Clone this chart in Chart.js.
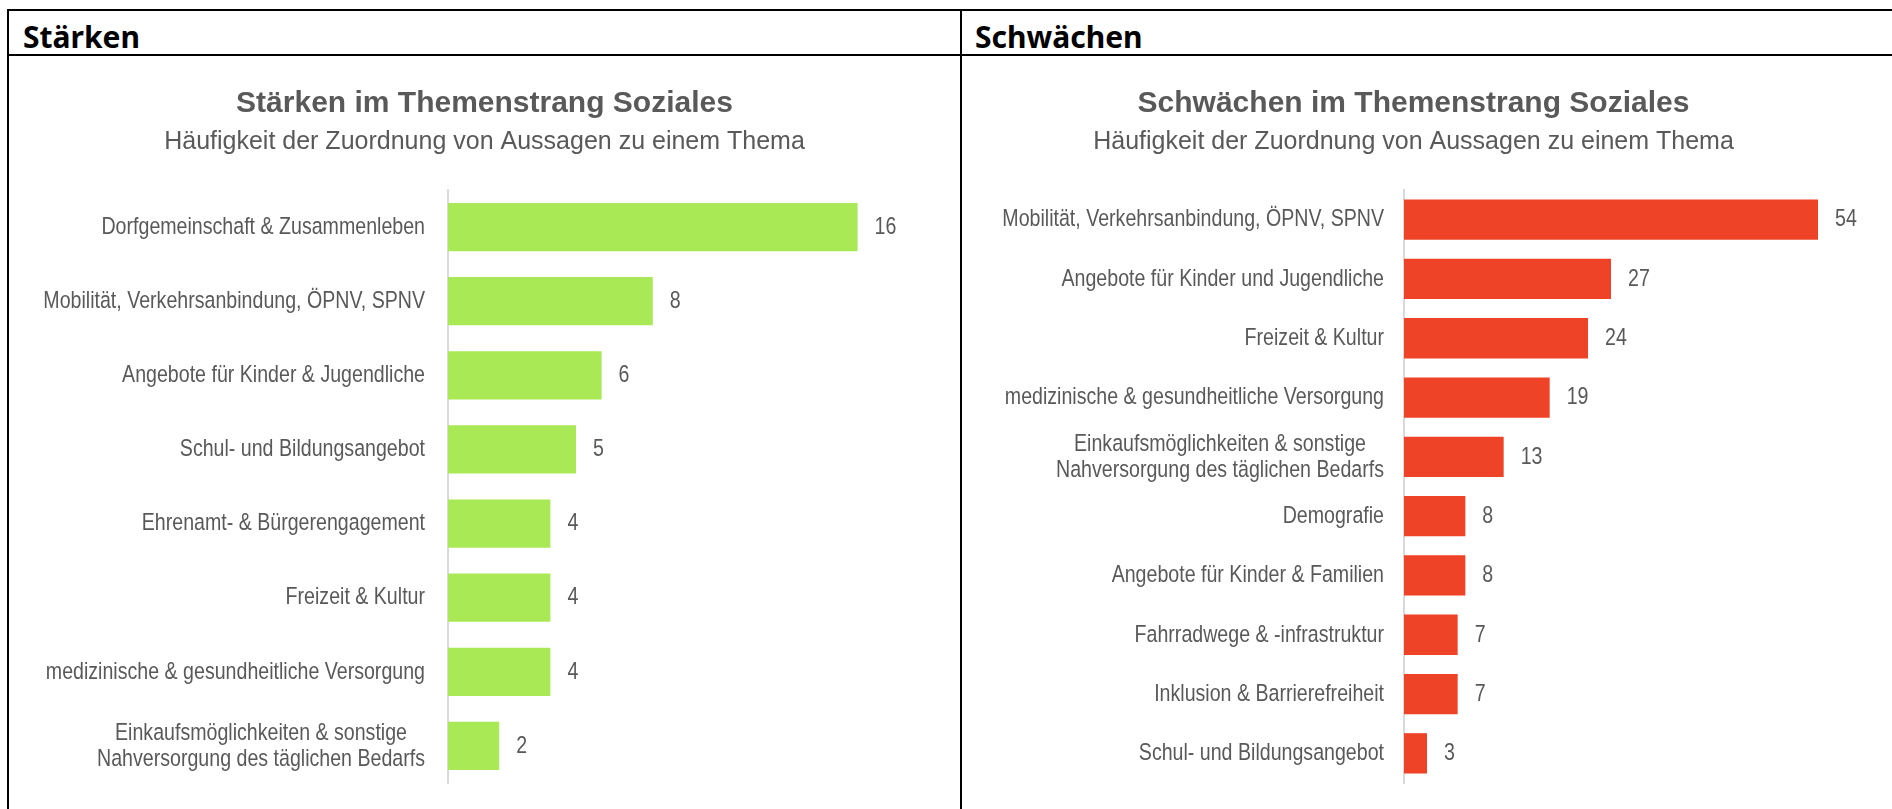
<!DOCTYPE html>
<html>
<head>
<meta charset="utf-8">
<script src="https://cdn.jsdelivr.net/npm/chart.js@4"></script>
<style>
  body { margin: 0; background: #fff; width: 1892px; height: 809px; overflow: hidden; position: relative; }
  .line { position: absolute; background: #000; }
  .head { position: absolute; top: 16px; font: bold 30px 'Noto Sans', sans-serif; color: #000; }
  .box { position: absolute; top: 56px; height: 753px; }
</style>
</head>
<body>
<div class="line" style="left:7px; top:9px; width:1885px; height:2px"></div>
<div class="line" style="left:7px; top:54px; width:1885px; height:2px"></div>
<div class="line" style="left:7px; top:9px; width:2px; height:800px"></div>
<div class="line" style="left:960px; top:9px; width:2px; height:800px"></div>
<div class="head" style="left:23px">Stärken</div>
<div class="head" style="left:975px">Schwächen</div>
<div class="box" style="left:9px; width:951px"><canvas id="left"></canvas></div>
<div class="box" style="left:963px; width:929px"><canvas id="right"></canvas></div>
<script>
const staerkenLabels = [
    'Dorfgemeinschaft & Zusammenleben',
    'Mobilität, Verkehrsanbindung, ÖPNV, SPNV',
    'Angebote für Kinder & Jugendliche',
    'Schul- und Bildungsangebot',
    'Ehrenamt- & Bürgerengagement',
    'Freizeit & Kultur',
    'medizinische & gesundheitliche Versorgung',
    ['Einkaufsmöglichkeiten & sonstige', 'Nahversorgung des täglichen Bedarfs']
];
const staerkenValues = [16, 8, 6, 5, 4, 4, 4, 2];

const schwaechenLabels = [
    'Mobilität, Verkehrsanbindung, ÖPNV, SPNV',
    'Angebote für Kinder und Jugendliche',
    'Freizeit & Kultur',
    'medizinische & gesundheitliche Versorgung',
    ['Einkaufsmöglichkeiten & sonstige', 'Nahversorgung des täglichen Bedarfs'],
    'Demografie',
    'Angebote für Kinder & Familien',
    'Fahrradwege & -infrastruktur',
    'Inklusion & Barrierefreiheit',
    'Schul- und Bildungsangebot'
];
const schwaechenValues = [54, 27, 24, 19, 13, 8, 8, 7, 7, 3];

const sans = "'Liberation Sans', Arial, sans-serif";
const grey = '#595959';
const squeeze = 0.8; // the original labels use a narrow face

function squeezedText(ctx, text, x, y, align) {
    ctx.save();
    ctx.translate(x, y);
    ctx.scale(squeeze, 1);
    ctx.textAlign = align;
    ctx.fillText(text, 0, 0);
    ctx.restore();
}

// category labels and value labels, placed from the chart's own scale and bars
const narrowLabels = {
    id: 'narrowLabels',
    afterDatasetsDraw(chart, args, opts) {
        const ctx = chart.ctx;
        const yScale = chart.scales.y;
        const meta = chart.getDatasetMeta(0);
        const values = chart.data.datasets[0].data;
        ctx.save();
        ctx.font = '24.5px ' + sans;
        ctx.fillStyle = grey;
        ctx.textBaseline = 'middle';
        chart.data.labels.forEach((label, i) => {
            const lines = [].concat(label);
            const cy = yScale.getPixelForTick(i);
            const right = chart.chartArea.left - opts.pad;
            const maxW = Math.max(...lines.map(l => ctx.measureText(l).width)) * squeeze;
            lines.forEach((l, k) => {
                const ly = cy + (k - (lines.length - 1) / 2) * 26;
                squeezedText(ctx, l, lines.length > 1 ? right - maxW / 2 : right, ly, lines.length > 1 ? 'center' : 'right');
            });
            const bar = meta.data[i];
            squeezedText(ctx, String(values[i]), bar.x + 17, bar.y, 'left');
        });
        ctx.restore();
    }
};

function makeChart(id, title, labels, values, color, max, axisWidth, pad, barPct, rightPad) {
    return new Chart(document.getElementById(id), {
        type: 'bar',
        data: {
            labels: labels,
            datasets: [{
                data: values,
                backgroundColor: color,
                categoryPercentage: 1,
                barPercentage: barPct
            }]
        },
        options: {
            indexAxis: 'y',
            responsive: true,
            maintainAspectRatio: false,
            animation: false,
            layout: { padding: { right: rightPad, bottom: 26 } },
            scales: {
                x: { display: false, min: 0, max: max },
                y: {
                    grid: { display: false, drawTicks: false },
                    border: { display: true, color: '#d9d9d9', width: 2 },
                    ticks: { display: false },
                    afterFit(scale) { scale.width = axisWidth; }
                }
            },
            plugins: {
                legend: { display: false },
                tooltip: { enabled: false },
                narrowLabels: { pad: pad },
                title: {
                    display: true,
                    text: title,
                    color: grey,
                    font: { family: sans, size: 30, weight: 'bold', lineHeight: 1.2 },
                    padding: { top: 30, bottom: 2 }
                },
                subtitle: {
                    display: true,
                    text: 'Häufigkeit der Zuordnung von Aussagen zu einem Thema',
                    color: grey,
                    font: { family: sans, size: 25, lineHeight: 1.2 },
                    padding: { top: 3, bottom: 33 }
                }
            }
        },
        plugins: [narrowLabels]
    });
}

makeChart('left', 'Stärken im Themenstrang Soziales', staerkenLabels, staerkenValues, '#a9e955', 20, 439, 23, 0.65, 0);
makeChart('right', 'Schwächen im Themenstrang Soziales', schwaechenLabels, schwaechenValues, '#ef4327', 60, 441, 20, 0.68, 28);
</script>
</body>
</html>
